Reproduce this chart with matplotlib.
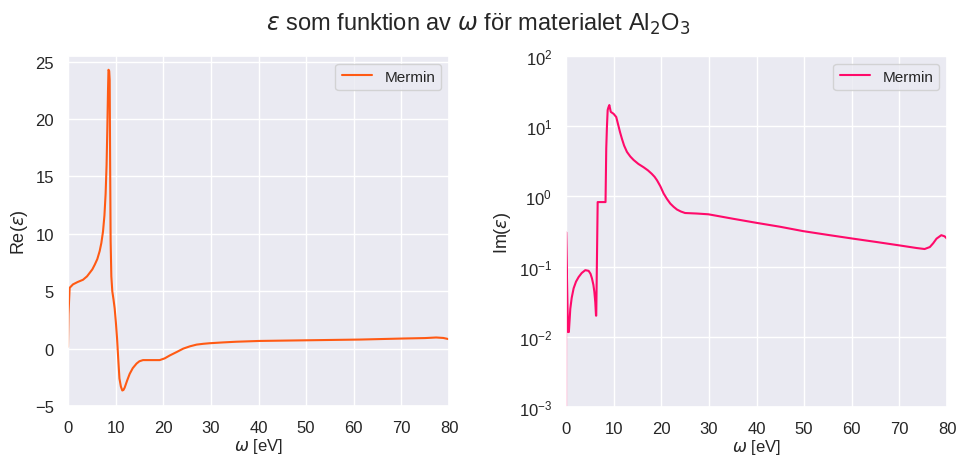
import matplotlib
matplotlib.use("Agg")
import matplotlib.pyplot as plt
from matplotlib.ticker import MultipleLocator
import seaborn as sns

sns.set_theme(style="darkgrid")
plt.rcParams["font.family"] = ["Liberation Sans", "DejaVu Sans"]
plt.rcParams["mathtext.fontset"] = "dejavusans"

# Real part of the dielectric function (Mermin model)
omega_re = [0.0, 0.1, 0.35, 1.05, 2.0, 3.15, 4.0, 4.55, 5.1, 5.6, 6.15, 6.65, 7.0,
            7.35, 7.65, 7.9, 8.1, 8.25, 8.4, 8.5, 8.65, 8.75, 8.85, 8.95, 9.1,
            9.3, 9.55, 9.8, 10.05, 10.3, 10.55, 10.8, 11.1, 11.4, 11.65, 11.9,
            12.4, 12.95, 13.6, 14.4, 15.0, 15.75, 17.5, 19.25, 20.3, 21.35, 22.8,
            24.2, 25.6, 27.0, 28.4, 29.75, 32.5, 35.3, 40.3, 50.7, 61.3, 70.3,
            75.0, 77.3, 78.8, 80.0]
eps_re = [0.15, 3.0, 5.3, 5.6, 5.8, 6.0, 6.3, 6.6, 6.9, 7.3, 7.8, 8.5, 9.2, 10.2,
          11.6, 13.5, 16.0, 19.0, 22.5, 24.3, 24.2, 23.4, 16.0, 9.4, 6.3, 5.0,
          4.3, 3.5, 2.3, 0.9, -0.9, -2.6, -3.3, -3.65, -3.6, -3.4, -2.8, -2.2,
          -1.7, -1.3, -1.1, -1.0, -1.0, -1.0, -0.85, -0.6, -0.3, 0.0, 0.2, 0.35,
          0.42, 0.47, 0.54, 0.6, 0.67, 0.73, 0.79, 0.88, 0.92, 0.97, 0.93, 0.82]

# Imaginary part of the dielectric function (Mermin model)
omega_im = [0.0, 0.02, 0.42, 0.6, 0.75, 0.9, 1.2, 1.6, 2.1, 2.65, 3.3, 4.05, 4.75,
            5.15, 5.45, 5.75, 5.95, 6.15, 6.3, 6.35, 6.65, 8.3, 8.45, 8.6, 8.75,
            8.9, 9.1, 9.4, 10.0, 10.55, 11.0, 11.35, 11.75, 12.2, 12.8, 13.5,
            14.2, 15.2, 16.3, 17.2, 18.0, 18.6, 19.1, 19.8, 20.5, 21.2, 21.9,
            22.6, 23.3, 24.1, 25.0, 27.5, 29.9, 35.1, 40.0, 44.9, 49.8, 55.4,
            60.3, 65.2, 70.1, 73.6, 75.3, 76.4, 77.1, 77.8, 78.8, 79.5, 80.0]
eps_im = [1e-4, 0.31, 0.0117, 0.0117, 0.017, 0.025, 0.036, 0.049, 0.061, 0.071,
          0.081, 0.089, 0.087, 0.079, 0.068, 0.055, 0.044, 0.031, 0.02, 0.02,
          0.83, 0.83, 4.8, 10.0, 17.0, 18.5, 20.0, 16.0, 15.0, 13.5, 10.2, 8.2,
          6.6, 5.3, 4.3, 3.7, 3.3, 2.9, 2.6, 2.35, 2.1, 1.9, 1.7, 1.4, 1.1, 0.92,
          0.79, 0.71, 0.65, 0.61, 0.58, 0.57, 0.556, 0.48, 0.42, 0.37, 0.32,
          0.28, 0.25, 0.224, 0.2, 0.184, 0.178, 0.19, 0.215, 0.25, 0.28, 0.27,
          0.25]

fig = plt.figure(figsize=(9.57, 4.56), dpi=100)
ax_re = fig.add_axes([68 / 957, 1 - 407 / 456, 381 / 957, 350 / 456])
ax_im = fig.add_axes([566 / 957, 1 - 408 / 456, 381 / 957, 351 / 456])

ax_re.plot(omega_re, eps_re, color="#ff5a14", lw=1.5, label="Mermin")
ax_re.set_xlim(0, 80)
ax_re.set_ylim(-5, 25.5)
ax_re.set_ylabel(r"Re($\varepsilon$)", fontsize=13)

ax_im.plot(omega_im, eps_im, color="#ff0a6a", lw=1.5, label="Mermin")
ax_im.set_yscale("log")
ax_im.set_xlim(0, 80)
ax_im.set_ylim(1e-3, 1e2)
ax_im.minorticks_off()
ax_im.set_ylabel(r"Im($\varepsilon$)", fontsize=13)

for ax in (ax_re, ax_im):
    ax.xaxis.set_major_locator(MultipleLocator(10))
    ax.tick_params(labelsize=12, pad=4)
    ax.set_xlabel(r"$\omega$ [eV]", fontsize=12, labelpad=1)
    ax.legend(loc="upper right", fontsize=11)

fig.suptitle(r"$\varepsilon$ som funktion av $\omega$ för materialet Al$_2$O$_3$",
             fontsize=17, y=0.975)

fig.savefig("out.png", dpi=100)
